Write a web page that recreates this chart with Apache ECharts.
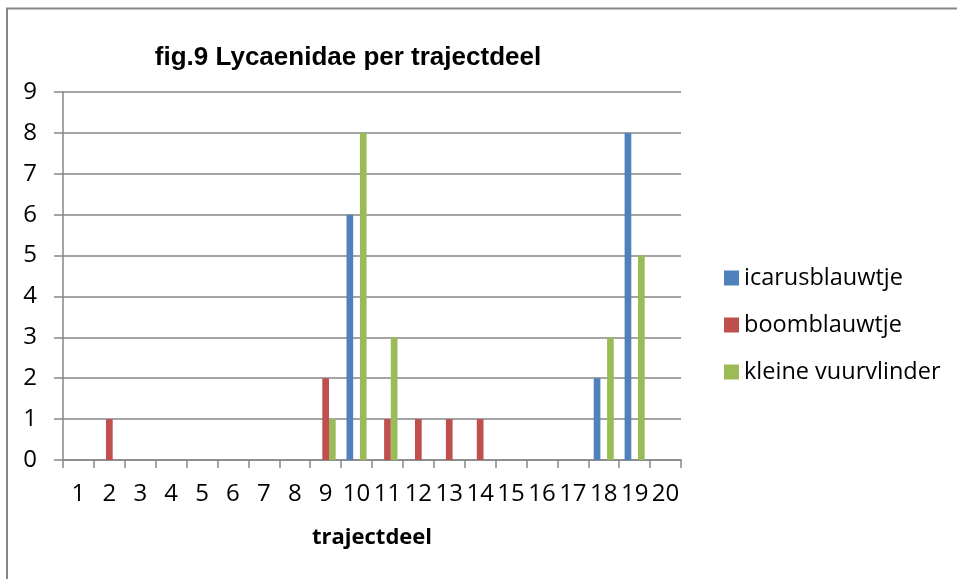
<!DOCTYPE html>
<html>
<head>
<meta charset="utf-8">
<script src="https://cdn.jsdelivr.net/npm/echarts@6/dist/echarts.min.js"></script>
<style>
html,body{margin:0;padding:0;background:#fff;}
#chart{width:957px;height:579px;}
</style>
</head>
<body>
<div id="chart"></div>
<script>
const categories = ['1','2','3','4','5','6','7','8','9','10','11','12','13','14','15','16','17','18','19','20'];
const icarusblauwtje = [0,0,0,0,0,0,0,0,0,6,0,0,0,0,0,0,0,2,8,0];
const boomblauwtje = [0,1,0,0,0,0,0,0,2,0,1,1,1,1,0,0,0,0,0,0];
const kleineVuurvlinder = [0,0,0,0,0,0,0,0,1,8,3,0,0,0,0,0,0,3,5,0];
const seriesNames = ['icarusblauwtje','boomblauwtje','kleine vuurvlinder'];
const colors = ['#4F81BD','#C0504D','#9BBB59'];

const chart = echarts.init(document.getElementById('chart'), null, {renderer:'canvas'});
const lab = {fontFamily:'Open Sans', fontSize:24, color:'#000'};
const gridColor = '#868686';
const mk = (name, data, i) => ({
  name, type:'bar', data,
  itemStyle:{color:colors[i]},
  barGap:'0%', barCategoryGap:'35%',
  emphasis:{disabled:true}
});
chart.setOption({
  animation:false,
  title:{
    text:'fig.9 Lycaenidae per trajectdeel',
    left:343, top:40, textAlign:'center',
    textStyle:{fontFamily:'Liberation Sans', fontWeight:'bold', fontSize:26, color:'#000'}
  },
  graphic:[{
    type:'polyline', silent:true,
    shape:{points:[[7,600],[7,8.5],[1000,8.5]]},
    style:{stroke:'#868686', lineWidth:2, fill:null}
  }],
  legend:{
    orient:'vertical', left:719, top:261,
    itemWidth:15, itemHeight:15, itemGap:23,
    icon:'rect',
    textStyle:Object.assign({}, lab, {fontSize:23.5, lineHeight:24}),
    data:seriesNames
  },
  grid:{left:63, right:276, top:92, bottom:119, containLabel:false},
  xAxis:{
    type:'category', data:categories,
    name:'trajectdeel', nameLocation:'middle', nameGap:67,
    nameTextStyle:{fontFamily:'Open Sans', fontWeight:'bold', fontSize:22, color:'#000'},
    axisLine:{lineStyle:{color:gridColor, width:1.5}},
    axisTick:{show:true, length:8, alignWithLabel:false, lineStyle:{color:gridColor, width:1.5}},
    axisLabel:Object.assign({}, lab, {margin:22, interval:0})
  },
  yAxis:{
    type:'value', min:0, max:9, interval:1,
    axisLine:{show:true, lineStyle:{color:gridColor, width:1.5}},
    axisTick:{show:true, length:9, lineStyle:{color:gridColor, width:1.5}},
    splitLine:{lineStyle:{color:gridColor, width:1.5}},
    axisLabel:Object.assign({}, lab, {margin:26})
  },
  series:[mk(seriesNames[0], icarusblauwtje, 0), mk(seriesNames[1], boomblauwtje, 1), mk(seriesNames[2], kleineVuurvlinder, 2)]
});
</script>
</body>
</html>
